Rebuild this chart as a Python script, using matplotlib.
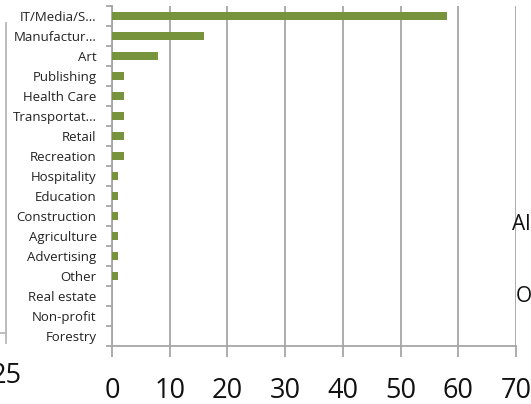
import numpy as np
import matplotlib.pyplot as plt
from matplotlib.lines import Line2D

plt.rcParams['font.family'] = ['Open Sans', 'DejaVu Sans']

# Data
industries = ['IT/Media/S…', 'Manufactur…', 'Art', 'Publishing', 'Health Care',
              'Transportat…', 'Retail', 'Recreation', 'Hospitality', 'Education',
              'Construction', 'Agriculture', 'Advertising', 'Other', 'Real estate',
              'Non-profit', 'Forestry']
counts = [58, 16, 8, 2, 2, 2, 2, 2, 1, 1, 1, 1, 1, 1, 0, 0, 0]
xticks = [0, 10, 20, 30, 40, 50, 60, 70]

grey = '#a6a6a6'

fig = plt.figure(figsize=(5.31, 4.04), dpi=100)
ax = fig.add_axes([112/531, 1 - 346/404, 404/531, 340/404])

y = np.arange(len(industries))
ax.barh(y, counts, height=0.4, color='#77933c', zorder=3)

ax.set_xlim(0, 70)
ax.set_ylim(len(industries) - 0.5, -0.5)
ax.set_xticks(xticks)
ax.set_xticklabels([str(t) for t in xticks], fontsize=19.5, color='#111111')
ax.set_yticks(y)
ax.set_yticklabels(industries, fontsize=9.5, color='#222222')
ax.set_yticks(np.arange(len(industries) + 1) - 0.5, minor=True)

ax.xaxis.grid(True, color=grey, linewidth=1.3, zorder=0)
ax.tick_params(axis='x', length=8, width=1.3, color=grey, pad=14)
ax.tick_params(axis='y', which='major', length=0, pad=11)
ax.tick_params(axis='y', which='minor', length=4, width=1.3, color=grey)

for side in ['top', 'right']:
    ax.spines[side].set_visible(False)
for side in ['left', 'bottom']:
    ax.spines[side].set_color(grey)
    ax.spines[side].set_linewidth(1.3)

# fragments of neighbouring content cut off by the crop
fig.add_artist(Line2D([6/531, 6/531], [1 - 23/404, 1 - 343/404], color='#b8b8b8', linewidth=1.3))
fig.add_artist(Line2D([0, 6/531], [1 - 333/404, 1 - 333/404], color='#b8b8b8', linewidth=1.3))
fig.text(-9/531, 1 - 376/404, '25', fontsize=19.5, va='center', ha='left', color='#111111')
fig.text(512/531, 1 - 224/404, 'Al', fontsize=15, va='center', ha='left', color='#111111')
fig.text(516/531, 1 - 296/404, 'O', fontsize=15, va='center', ha='left', color='#111111')

fig.savefig('out.png', dpi=100)
